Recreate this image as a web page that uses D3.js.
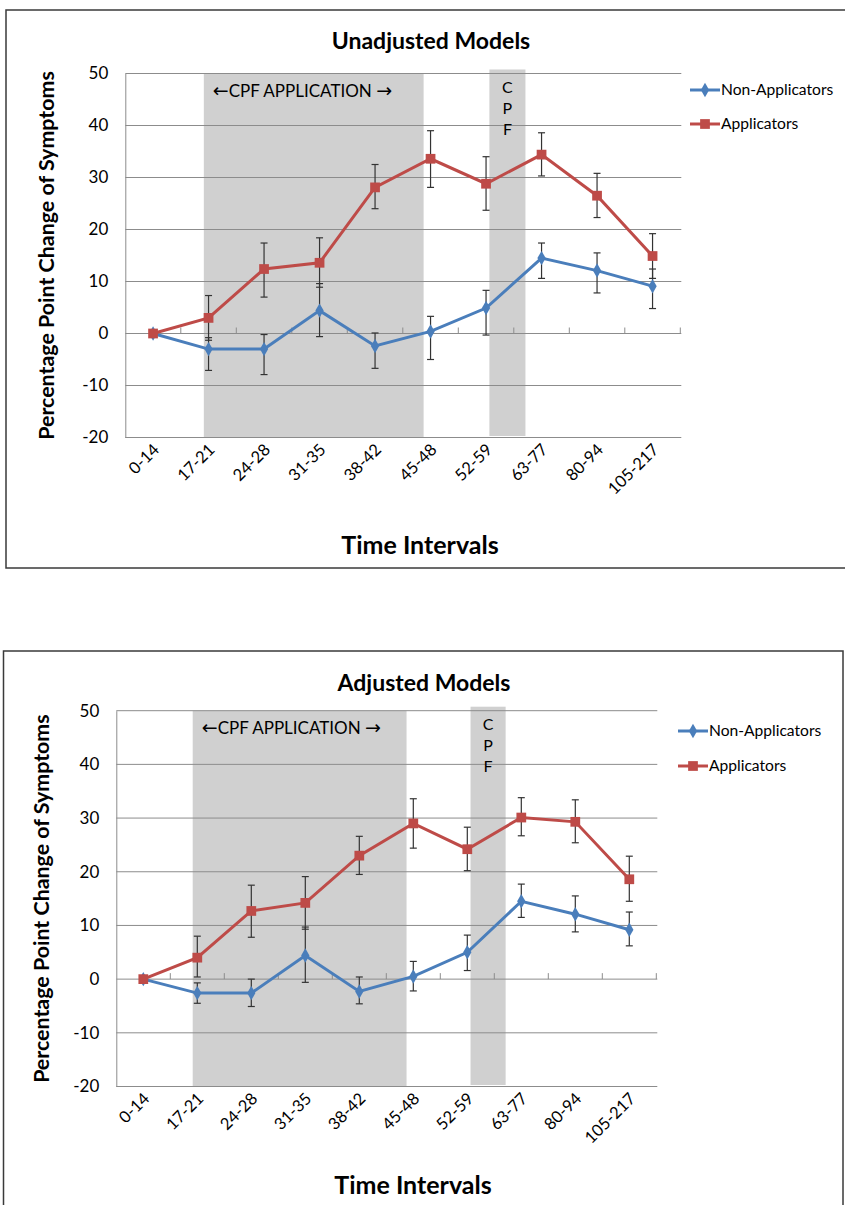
<!DOCTYPE html>
<html>
<head>
<meta charset="utf-8">
<script src="https://cdn.jsdelivr.net/npm/d3@7"></script>
<style>
  body { margin: 0; background: #fff; }
  svg { display: block; }
  text { font-family: Lato, "Open Sans", sans-serif; fill: #000; }
</style>
</head>
<body>
<svg id="chart" width="845" height="1205"></svg>
<script>
// Time intervals (days)
const categories = ["0-14", "17-21", "24-28", "31-35", "38-42", "45-48", "52-59", "63-77", "80-94", "105-217"];
const yTicks = [-20, -10, 0, 10, 20, 30, 40, 50];
const seriesNames = ["Non-Applicators", "Applicators"];

// Unadjusted models: point estimate with lower / upper confidence limits
const unadjNonApp      = [0, -3.0, -3.0, 4.4, -2.4, 0.4, 4.9, 14.5, 12.1, 9.1];
const unadjNonAppLow   = [null, -7.1, -7.9, -0.6, -6.7, -5.0, -0.3, 10.6, 7.8, 4.8];
const unadjNonAppHigh  = [null, -0.8, -0.2, 9.6, 0.1, 3.3, 8.3, 17.4, 15.5, 12.4];
const unadjApp         = [0, 3.0, 12.4, 13.6, 28.1, 33.6, 28.8, 34.4, 26.5, 14.9];
const unadjAppLow      = [null, -1.3, 7.0, 8.9, 24.0, 28.1, 23.7, 30.3, 22.3, 10.6];
const unadjAppHigh     = [null, 7.3, 17.4, 18.4, 32.5, 39.0, 34.0, 38.6, 30.8, 19.2];

// Adjusted models
const adjNonApp        = [0, -2.6, -2.6, 4.4, -2.3, 0.5, 5.0, 14.5, 12.1, 9.2];
const adjNonAppLow     = [null, -4.5, -5.1, -0.6, -4.6, -2.2, 1.6, 11.5, 8.8, 6.2];
const adjNonAppHigh    = [null, -0.7, 0.0, 9.7, 0.4, 3.3, 8.2, 17.7, 15.5, 12.5];
const adjApp           = [0, 4.0, 12.7, 14.2, 23.0, 29.0, 24.2, 30.1, 29.3, 18.6];
const adjAppLow        = [null, 0.4, 7.8, 9.3, 19.5, 24.4, 20.2, 26.7, 25.4, 14.5];
const adjAppHigh       = [null, 8.0, 17.5, 19.1, 26.6, 33.6, 28.3, 33.8, 33.4, 22.9];

// Shaded periods, in category-index units
const applicationBand = [0.915, 4.875];
const cpfBand = [6.06, 6.71];

const colors = { "Non-Applicators": "#4a7ebb", "Applicators": "#be4b48" };
const arrowFont = '"DejaVu Sans", sans-serif';

const svg = d3.select("#chart");

function drawPanel(cfg) {
  const g = svg.append("g");

  // outer frame
  g.append("rect")
    .attr("x", cfg.frame[0]).attr("y", cfg.frame[1])
    .attr("width", cfg.frame[2]).attr("height", cfg.frame[3])
    .attr("fill", "#fff").attr("stroke", "#3a3a3a").attr("stroke-width", 1.5);

  const x = d3.scaleLinear().domain([-0.5, categories.length - 0.5]).range([cfg.left, cfg.right]);
  const y = d3.scaleLinear().domain([-20, 50]).range([cfg.bottom, cfg.top]);

  // title
  g.append("text").attr("x", cfg.titleX).attr("y", cfg.titleY)
    .attr("text-anchor", "middle").attr("font-size", 23).attr("font-weight", "bold")
    .text(cfg.title);

  // shaded bands
  g.append("rect")
    .attr("x", x(applicationBand[0])).attr("y", y(50))
    .attr("width", x(applicationBand[1]) - x(applicationBand[0]))
    .attr("height", y(-20) - y(50))
    .attr("fill", "#d0d0d0");
  g.append("rect")
    .attr("x", x(cpfBand[0])).attr("y", y(50) - 4)
    .attr("width", x(cpfBand[1]) - x(cpfBand[0]))
    .attr("height", y(-20) - y(50) + 2.5)
    .attr("fill", "#d0d0d0");

  // gridlines
  g.append("g").selectAll("line").data(yTicks).join("line")
    .attr("x1", cfg.left).attr("x2", cfg.right + 1)
    .attr("y1", d => y(d)).attr("y2", d => y(d))
    .attr("stroke", "#8c8c8c").attr("stroke-width", 1);

  // y axis
  const yAxis = g.append("g").attr("transform", `translate(${cfg.left},0)`)
    .call(d3.axisLeft(y).tickValues(yTicks).tickFormat(d => String(d)).tickSize(0).tickPadding(17));
  yAxis.select(".domain").attr("stroke", "#8c8c8c");
  yAxis.selectAll("text").attr("font-size", 17).style("font-family", "Lato, sans-serif");

  // category axis at zero with tick marks between categories
  const boundaries = d3.range(1, categories.length + 1).map(i => i - 0.5);
  g.append("g").selectAll("line").data(boundaries).join("line")
    .attr("x1", d => x(d)).attr("x2", d => x(d))
    .attr("y1", y(0) - 6).attr("y2", y(0))
    .attr("stroke", "#8c8c8c");

  // category labels
  g.append("g").selectAll("text").data(categories).join("text")
    .attr("transform", (d, i) => `translate(${x(i) - 1},${cfg.bottom + 5}) rotate(-45)`)
    .attr("text-anchor", "end").attr("dy", "0.7em")
    .attr("font-size", 16.5)
    .text(d => d);

  // band labels
  const appLabel = g.append("text")
    .attr("x", x(applicationBand[0]) + 9).attr("y", y(50) + 23)
    .attr("font-size", 17);
  appLabel.append("tspan").style("font-family", arrowFont).style("font-size", "19px").text("\u2190");
  appLabel.append("tspan").text("CPF APPLICATION ");
  appLabel.append("tspan").style("font-family", arrowFont).style("font-size", "19px").text("\u2192");
  ["C", "P", "F"].forEach((c, i) => {
    g.append("text")
      .attr("x", x((cpfBand[0] + cpfBand[1]) / 2)).attr("y", y(50) + 19 + i * 21)
      .attr("text-anchor", "middle").attr("font-size", 16)
      .text(c);
  });

  // axis titles
  g.append("text")
    .attr("transform", `translate(${cfg.yTitleX},${(y(50) + y(-20)) / 2}) rotate(-90)`)
    .attr("text-anchor", "middle").attr("font-size", 21.4).attr("font-weight", "bold")
    .text("Percentage Point Change of Symptoms");
  g.append("text")
    .attr("x", cfg.xTitleX).attr("y", cfg.xTitleY)
    .attr("text-anchor", "middle").attr("font-size", 25).attr("font-weight", "bold")
    .text("Time Intervals");

  const line = d3.line().x((d, i) => x(i)).y(d => y(d));

  cfg.series.forEach(s => {
    const color = colors[s.name];
    // error bars
    const eb = g.append("g").attr("stroke", "#333").attr("stroke-width", 1.2);
    s.values.forEach((v, i) => {
      if (s.low[i] == null) return;
      eb.append("line").attr("x1", x(i)).attr("x2", x(i)).attr("y1", y(s.low[i])).attr("y2", y(s.high[i]));
      eb.append("line").attr("x1", x(i) - 3.5).attr("x2", x(i) + 3.5).attr("y1", y(s.low[i])).attr("y2", y(s.low[i]));
      eb.append("line").attr("x1", x(i) - 3.5).attr("x2", x(i) + 3.5).attr("y1", y(s.high[i])).attr("y2", y(s.high[i]));
    });
    g.append("path").datum(s.values)
      .attr("d", line).attr("fill", "none")
      .attr("stroke", color).attr("stroke-width", 3);
  });

  // markers drawn over lines
  cfg.series.forEach(s => {
    const color = colors[s.name];
    const sym = s.name === "Applicators" ? d3.symbolSquare : d3.symbolDiamond;
    const size = s.name === "Applicators" ? 95 : 60;
    g.append("g").selectAll("path").data(s.values).join("path")
      .attr("transform", (d, i) => `translate(${x(i)},${y(d)})`)
      .attr("d", d3.symbol().type(sym).size(size))
      .attr("fill", color);
  });

  // legend
  seriesNames.forEach((name, k) => {
    const ly = cfg.legendY + k * cfg.legendGap;
    const lx = cfg.legendX;
    const color = colors[name];
    g.append("line").attr("x1", lx).attr("x2", lx + 30).attr("y1", ly).attr("y2", ly)
      .attr("stroke", color).attr("stroke-width", 3);
    g.append("path")
      .attr("transform", `translate(${lx + 15},${ly})`)
      .attr("d", d3.symbol().type(name === "Applicators" ? d3.symbolSquare : d3.symbolDiamond)
        .size(name === "Applicators" ? 95 : 60))
      .attr("fill", color);
    g.append("text").attr("x", lx + 31).attr("y", ly).attr("dy", "0.35em")
      .attr("font-size", 15.6).text(name);
  });
}

drawPanel({
  frame: [6, 10, 845, 558],
  left: 125.3, right: 680.3, top: 73.5, bottom: 437.5,
  title: "Unadjusted Models", titleX: 431, titleY: 49,
  yTitleX: 54, xTitleX: 420, xTitleY: 554,
  legendX: 690, legendY: 90, legendGap: 34,
  series: [
    { name: "Non-Applicators", values: unadjNonApp, low: unadjNonAppLow, high: unadjNonAppHigh },
    { name: "Applicators", values: unadjApp, low: unadjAppLow, high: unadjAppHigh }
  ]
});

drawPanel({
  frame: [3.5, 651, 839.5, 560],
  left: 116.3, right: 656.3, top: 710.7, bottom: 1086.5,
  title: "Adjusted Models", titleX: 424, titleY: 691,
  yTitleX: 49, xTitleX: 413, xTitleY: 1194,
  legendX: 678, legendY: 731, legendGap: 35,
  series: [
    { name: "Non-Applicators", values: adjNonApp, low: adjNonAppLow, high: adjNonAppHigh },
    { name: "Applicators", values: adjApp, low: adjAppLow, high: adjAppHigh }
  ]
});
</script>
</body>
</html>
